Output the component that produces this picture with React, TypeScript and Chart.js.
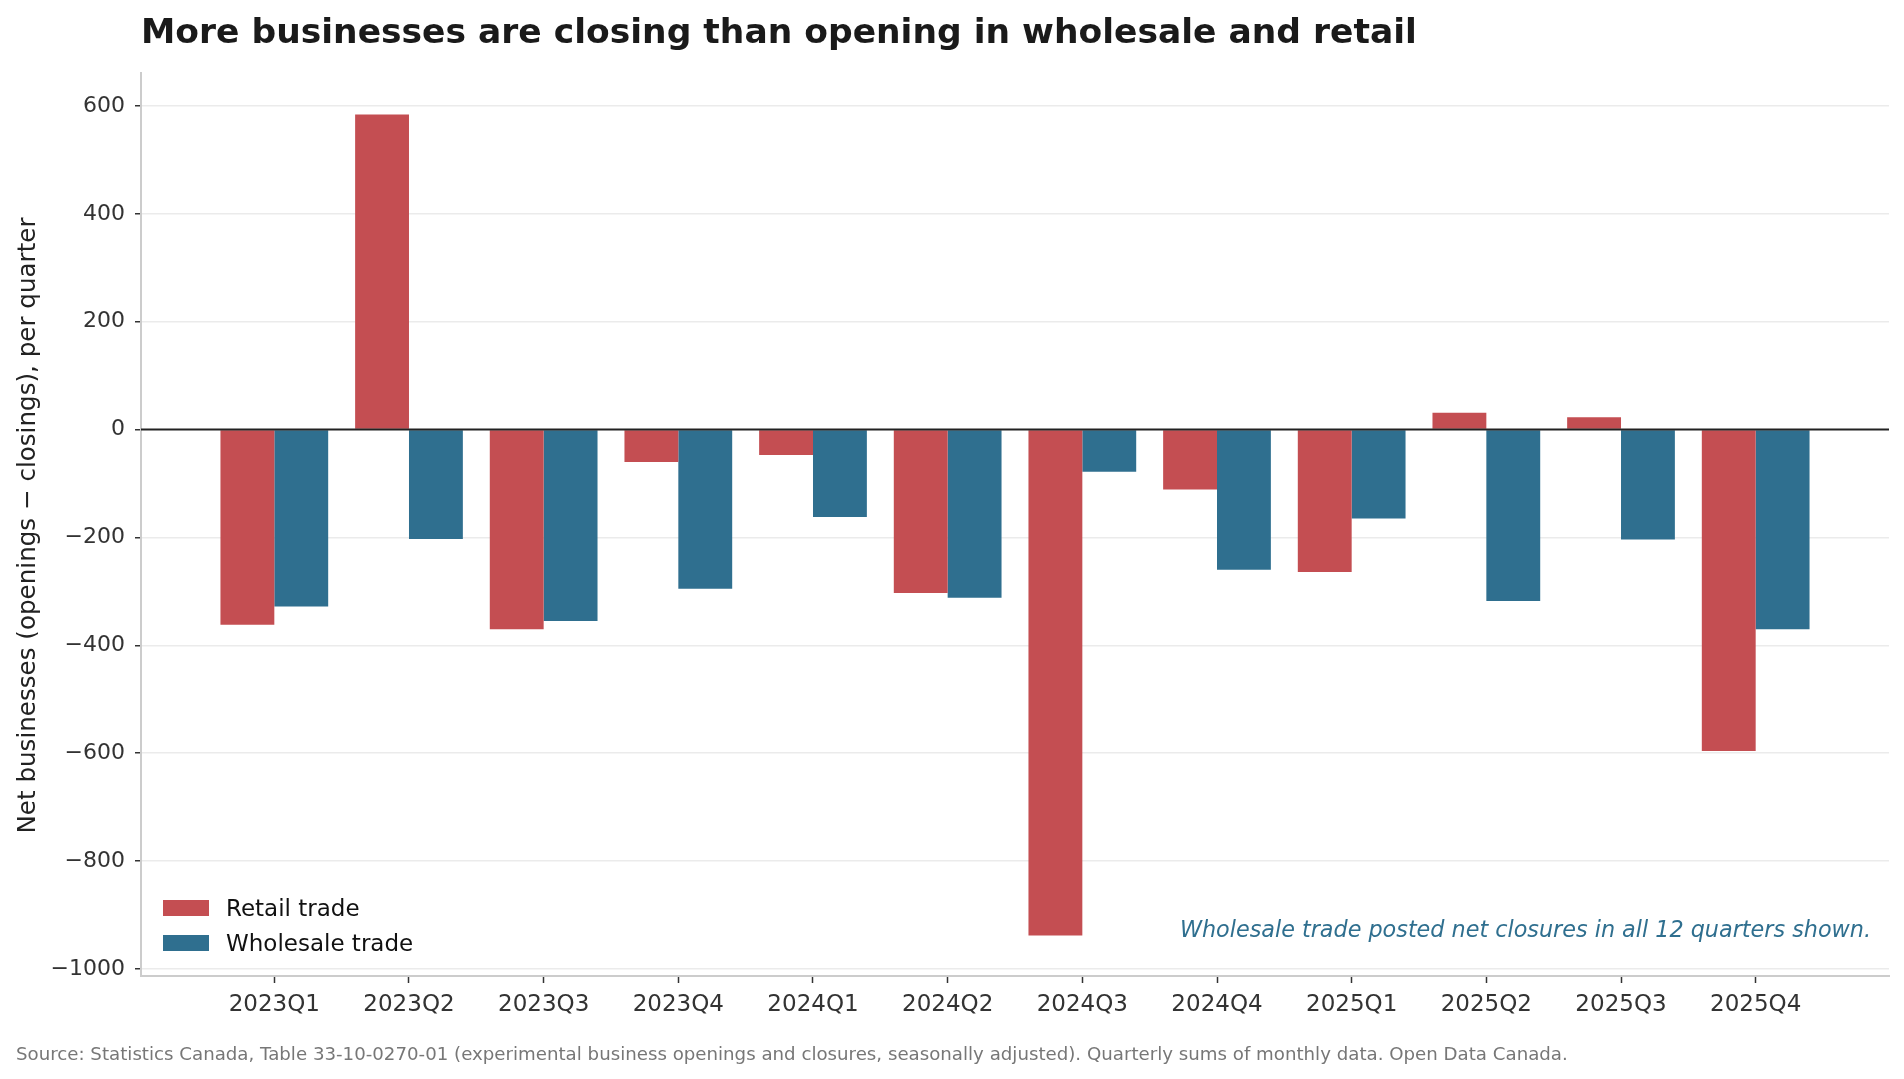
import { useEffect, useRef } from "react";
import { Chart, registerables } from "chart.js";

Chart.register(...registerables);

// Quarterly net business counts (openings minus closings)
const quarters = [
  "2023Q1", "2023Q2", "2023Q3", "2023Q4",
  "2024Q1", "2024Q2", "2024Q3", "2024Q4",
  "2025Q1", "2025Q2", "2025Q3", "2025Q4",
];
const retailTrade = [-362, 584, -370, -60, -47, -303, -938, -111, -264, 31, 23, -596];
const wholesaleTrade = [-328, -203, -355, -295, -162, -312, -78, -260, -165, -318, -204, -370];
const yTickValues = [-1000, -800, -600, -400, -200, 0, 200, 400, 600];

const seriesNames = ["Retail trade", "Wholesale trade"];
const seriesColors = ["#C44E52", "#2F6F8F"];

const titleText = "More businesses are closing than opening in wholesale and retail";
const yAxisTitle = "Net businesses (openings \u2212 closings), per quarter";
const noteText = "Wholesale trade posted net closures in all 12 quarters shown.";
const sourceText =
  "Source: Statistics Canada, Table 33-10-0270-01 (experimental business openings and closures, seasonally adjusted). Quarterly sums of monthly data. Open Data Canada.";

const FONT = "'DejaVu Sans', 'Liberation Sans', sans-serif";

const formatSigned = (v: number) => (v < 0 ? "\u2212" + Math.abs(v) : String(v));

const decorations = {
  id: "decorations",
  afterDatasetsDraw(chart: any) {
    const { ctx, chartArea, scales } = chart;
    const y0 = scales.y.getPixelForValue(0);
    ctx.save();
    // zero reference line
    ctx.strokeStyle = "#222222";
    ctx.lineWidth = 2;
    ctx.beginPath();
    ctx.moveTo(chartArea.left, y0);
    ctx.lineTo(chartArea.right, y0);
    ctx.stroke();

    // legend, lower left inside the plot
    const lx = chartArea.left + 22;
    const ly = chartArea.bottom - 68;
    ctx.font = `23px ${FONT}`;
    ctx.textBaseline = "alphabetic";
    ctx.textAlign = "left";
    seriesNames.forEach((name, i) => {
      const rowY = ly + i * 35;
      ctx.fillStyle = seriesColors[i];
      ctx.fillRect(lx, rowY - 8, 46, 16);
      ctx.fillStyle = "#111111";
      ctx.fillText(name, lx + 63, rowY + 8);
    });

    // annotation, lower right
    ctx.font = `italic 22.3px ${FONT}`;
    ctx.fillStyle = "#2F6F8F";
    ctx.textAlign = "right";
    ctx.textBaseline = "middle";
    ctx.fillText(noteText, chartArea.right - 18, chartArea.bottom - 45);
    ctx.restore();
  },
  afterDraw(chart: any) {
    const { ctx, chartArea } = chart;
    ctx.save();
    // title
    ctx.font = `bold 34.5px ${FONT}`;
    ctx.fillStyle = "#1a1a1a";
    ctx.textAlign = "left";
    ctx.textBaseline = "alphabetic";
    ctx.fillText(titleText, chartArea.left, 43);

    // y-axis title
    ctx.save();
    ctx.translate(28.5, (chartArea.top + chartArea.bottom) / 2 + 1);
    ctx.rotate(-Math.PI / 2);
    ctx.font = `24.6px ${FONT}`;
    ctx.fillStyle = "#222222";
    ctx.textAlign = "center";
    ctx.textBaseline = "middle";
    ctx.fillText(yAxisTitle, 0, 0);
    ctx.restore();

    // source line
    ctx.font = `18.2px ${FONT}`;
    ctx.fillStyle = "#777777";
    ctx.textAlign = "left";
    ctx.textBaseline = "middle";
    ctx.fillText(sourceText, 16, 1055);
    ctx.restore();
  },
};

export default function App() {
  const canvasRef = useRef<HTMLCanvasElement | null>(null);

  useEffect(() => {
    document.body.style.margin = "0";
    document.body.style.overflow = "hidden";
    const canvas = canvasRef.current;
    if (!canvas) return;

    const datasets = [retailTrade, wholesaleTrade].map((values, s) => ({
      label: seriesNames[s],
      data: values.map((v, i) => ({ x: i, y: v })),
      backgroundColor: seriesColors[s],
      borderWidth: 0,
      categoryPercentage: 0.8,
      barPercentage: 1.0,
    }));

    const chart = new Chart(canvas, {
      type: "bar",
      data: { datasets },
      options: {
        responsive: false,
        animation: false,
        devicePixelRatio: 1,
        layout: { padding: { top: 73, right: 15, bottom: 43, left: 0 } },
        plugins: {
          legend: { display: false },
          tooltip: { enabled: false },
          title: { display: false },
        },
        scales: {
          x: {
            type: "linear",
            offset: false,
            min: -0.99,
            max: 11.99,
            afterBuildTicks: (scale: any) => {
              scale.ticks = quarters.map((_, i) => ({ value: i }));
            },
            afterFit: (scale: any) => {
              scale.height = 60;
            },
            ticks: {
              autoSkip: false,
              maxRotation: 0,
              padding: 8,
              color: "#333333",
              font: { family: FONT, size: 23 },
              callback: (v: any) => quarters[v as number] ?? "",
            },
            grid: {
              offset: false,
              drawOnChartArea: false,
              drawTicks: true,
              tickLength: 7,
              tickColor: "#333333",
              tickWidth: 1.5,
            },
            border: { display: true, color: "#cccccc", width: 2 },
          },
          y: {
            type: "linear",
            min: -1013,
            max: 661,
            afterBuildTicks: (scale: any) => {
              scale.ticks = yTickValues.map((v) => ({ value: v }));
            },
            afterFit: (scale: any) => {
              scale.width = 141;
            },
            ticks: {
              padding: 10,
              color: "#333333",
              font: { family: FONT, size: 22 },
              callback: (v: any) => formatSigned(v as number),
            },
            grid: {
              color: (c: any) => (c.tick && c.tick.value === 0 ? "rgba(0,0,0,0)" : "#ebebeb"),
              lineWidth: 1.5,
              drawTicks: true,
              tickLength: 6,
              tickColor: "#333333",
              tickWidth: 1.5,
            },
            border: { display: true, color: "#cccccc", width: 2 },
          },
        },
      },
      plugins: [decorations],
    });

    return () => chart.destroy();
  }, []);

  return <canvas ref={canvasRef} width={1904} height={1079} style={{ display: "block" }} />;
}
